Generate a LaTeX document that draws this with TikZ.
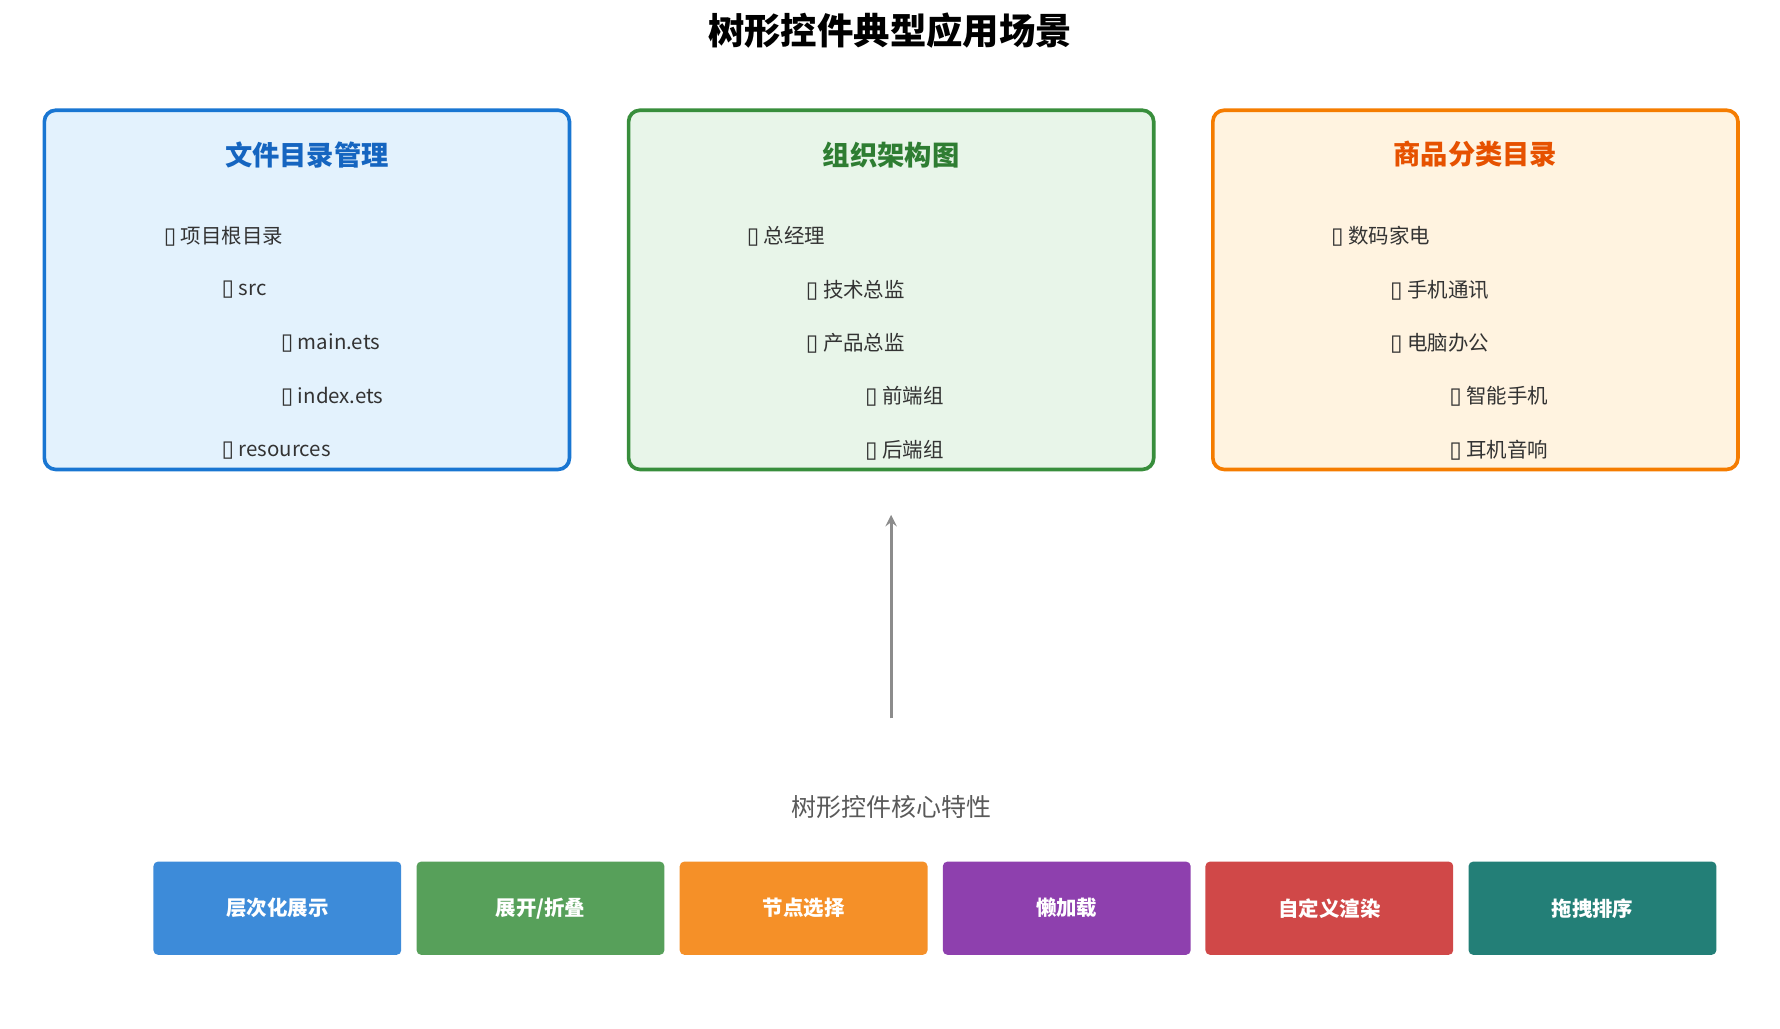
\documentclass[tikz,border=0pt]{standalone}
\usepackage{fontspec}
\setmainfont{Noto Sans CJK SC}
\newfontfamily\symfont{DejaVu Sans}
\definecolor{blueline}{HTML}{1976D2}
\definecolor{bluefill}{HTML}{E3F2FD}
\definecolor{bluetext}{HTML}{1565C0}
\definecolor{greenline}{HTML}{388E3C}
\definecolor{greenfill}{HTML}{E8F5E9}
\definecolor{greentext}{HTML}{2E7D32}
\definecolor{orangeline}{HTML}{F57C00}
\definecolor{orangefill}{HTML}{FFF3E0}
\definecolor{orangetext}{HTML}{E65100}
\definecolor{featA}{HTML}{3D8BD9}
\definecolor{featB}{HTML}{57A05A}
\definecolor{featC}{HTML}{F59028}
\definecolor{featD}{HTML}{8E40AE}
\definecolor{featE}{HTML}{D04848}
\definecolor{featF}{HTML}{237F77}
\newcommand{\tofu}{{\symfont\fontsize{10}{10}\selectfont\char"25AF}\ }
\tikzset{
  panel/.style={draw=#1line, fill=#1fill, line width=1.6pt, rounded corners=5pt},
  item/.style={anchor=west, font=\fontsize{9}{11}\selectfont, text=black!80},
  feat/.style={fill=#1, rounded corners=2pt, minimum width=109pt, minimum height=41pt,
    text=white, font=\fontsize{9}{11}\selectfont\bfseries}
}
\begin{document}
\begin{tikzpicture}[x=0.5pt,y=-0.5pt]
            \useasboundingbox (0,0) rectangle (1566,905);
            \node (title) at (783,27) {\fontsize{16}{18}\selectfont\bfseries 树形控件典型应用场景};
            % three panels
            \draw [panel=blue] (39,97) rectangle (501,413);
            \node (filet) at (270,136) {\fontsize{12}{14}\selectfont\bfseries\color{bluetext}文件目录管理};
            \node [item] (f1) at (137,208) {\tofu 项目根目录};
            \node [item] (f2) at (188,255) {\tofu src};
            \node [item] (f3) at (240,302) {\tofu main.ets};
            \node [item] (f4) at (240,349) {\tofu index.ets};
            \node [item] (f5) at (188,396) {\tofu resources};
            \draw [panel=green] (553,97) rectangle (1015,413);
            \node (orgt) at (784,136) {\fontsize{12}{14}\selectfont\bfseries\color{greentext}组织架构图};
            \node [item] (o1) at (650,208) {\tofu 总经理};
            \node [item] (o2) at (702,255) {\tofu 技术总监};
            \node [item] (o3) at (702,302) {\tofu 产品总监};
            \node [item] (o4) at (754,349) {\tofu 前端组};
            \node [item] (o5) at (754,396) {\tofu 后端组};
            \draw [panel=orange] (1067,97) rectangle (1529,413);
            \node (shopt) at (1298,136) {\fontsize{12}{14}\selectfont\bfseries\color{orangetext}商品分类目录};
            \node [item] (s1) at (1164,208) {\tofu 数码家电};
            \node [item] (s2) at (1216,255) {\tofu 手机通讯};
            \node [item] (s3) at (1216,302) {\tofu 电脑办公};
            \node [item] (s4) at (1268,349) {\tofu 智能手机};
            \node [item] (s5) at (1268,396) {\tofu 耳机音响};
            % arrow
            \coordinate (arrfrom) at (784,632);
            \coordinate (arrto) at (784,453);
            \draw [->, >=stealth, black!45, line width=1.2pt] (arrfrom) -- (arrto);
            \node (core) at (784,710) {\fontsize{11}{13}\selectfont\color{black!65}树形控件核心特性};
            % features
            \node [feat=featA] (k1) at (244,799) {层次化展示};
            \node [feat=featB] (k2) at (475.5,799) {展开/折叠};
            \node [feat=featC] (k3) at (707,799) {节点选择};
            \node [feat=featD] (k4) at (938.5,799) {懒加载};
            \node [feat=featE] (k5) at (1169.5,799) {自定义渲染};
            \node [feat=featF] (k6) at (1401,799) {拖拽排序};
\end{tikzpicture}
\end{document}
